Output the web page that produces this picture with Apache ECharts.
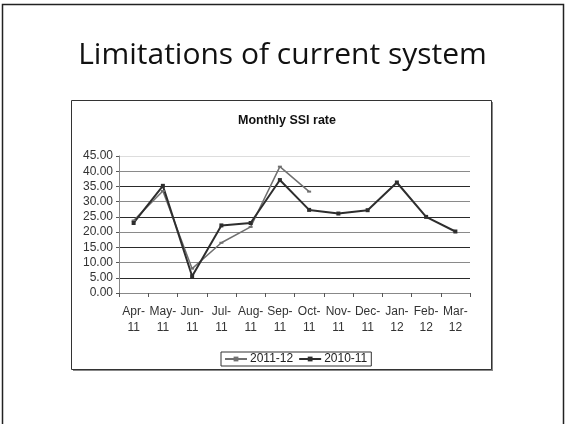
<!DOCTYPE html>
<html>
<head>
<meta charset="utf-8">
<script src="https://cdn.jsdelivr.net/npm/echarts@6/dist/echarts.min.js"></script>
<style>
  html, body { margin: 0; padding: 0; background: #fff; }
  #chart { width: 565px; height: 424px; }
</style>
</head>
<body>
<div id="chart"></div>
<script>
const months = ['Apr-\n11', 'May-\n11', 'Jun-\n11', 'Jul-\n11', 'Aug-\n11', 'Sep-\n11',
  'Oct-\n11', 'Nov-\n11', 'Dec-\n11', 'Jan-\n12', 'Feb-\n12', 'Mar-\n12']
const rate2011_12 = [23.8, 33.5, 8.0, 16.5, 21.7, 41.5, 33.3, null, null, null, null, null]
const rate2010_11 = [23.0, 35.2, 5.5, 22.2, 23.0, 37.1, 27.3, 26.1, 27.2, 36.3, 25.0, 20.2]
const yTicks = [0, 5, 10, 15, 20, 25, 30, 35, 40, 45]

const chart = echarts.init(document.getElementById('chart'))

const gridColors = yTicks.map((v, i) => (v === 45 ? '#dddddd' : i % 2 === 0 ? '#8a8a8a' : '#2a2a2a'))
const labelFont = '"Liberation Sans", Arial'

chart.setOption({
  animation: false,
  backgroundColor: '#fff',
  graphic: [
    // slide frame
    {
      type: 'rect',
      shape: { x: 2.5, y: 4.5, width: 561, height: 430 },
      style: { fill: 'none', stroke: '#222', lineWidth: 1.5 },
    },
    // chart box shadow
    {
      type: 'rect',
      shape: { x: 73, y: 102, width: 420, height: 269 },
      style: { fill: '#888', stroke: 'none' },
    },
    // chart box
    {
      type: 'rect',
      shape: { x: 71.5, y: 100.5, width: 420, height: 269 },
      style: { fill: '#fff', stroke: '#333', lineWidth: 1 },
    },
    {
      type: 'text',
      left: 'center',
      top: 40,
      style: {
        text: 'Limitations of current system',
        fill: '#111',
        font: '30px "Open Sans", sans-serif',
      },
    },
  ],
  title: {
    text: 'Monthly SSI rate',
    left: 282,
    textAlign: 'center',
    top: 109,
    textStyle: { fontFamily: labelFont, fontSize: 12.5, fontWeight: 'bold', color: '#111' },
  },
  legend: {
    left: 221,
    top: 352,
    itemWidth: 22,
    itemHeight: 6,
    itemGap: 5,
    padding: [1, 4, 1, 3],
    borderColor: '#333',
    borderWidth: 1,
    backgroundColor: '#fff',
    textStyle: { fontFamily: labelFont, fontSize: 12, color: '#222', padding: [0, 0, 0, -2] },
    data: ['2011-12', '2010-11'],
  },
  grid: {
    left: 119,
    right: 95,
    top: 156,
    bottom: 131,
    show: true,
    backgroundColor: '#f8f8f8',
    borderWidth: 0,
  },
  xAxis: {
    type: 'category',
    data: months,
    boundaryGap: true,
    axisLine: { lineStyle: { color: '#888', width: 1 } },
    axisTick: { show: true, length: 4, lineStyle: { color: '#555' } },
    axisLabel: {
      interval: 0,
      margin: 11,
      color: '#333',
      fontFamily: labelFont,
      fontSize: 12,
      lineHeight: 16,
    },
  },
  yAxis: {
    type: 'value',
    min: 0,
    max: 45,
    interval: 5,
    axisLine: { show: true, lineStyle: { color: '#888' } },
    axisTick: { show: true, length: 3, lineStyle: { color: '#555' } },
    axisLabel: {
      margin: 6,
      color: '#333',
      fontFamily: labelFont,
      fontSize: 12,
      formatter: (v) => v.toFixed(2),
    },
    splitLine: { show: true, lineStyle: { color: gridColors, width: 1 } },
  },
  series: [
    {
      name: '2011-12',
      type: 'line',
      data: rate2011_12,
      symbol: 'rect',
      symbolSize: [4, 2],
      lineStyle: { color: '#707070', width: 1.5 },
      itemStyle: { color: '#707070' },
    },
    {
      name: '2010-11',
      type: 'line',
      data: rate2010_11,
      symbol: 'rect',
      symbolSize: 4,
      lineStyle: { color: '#2e2e2e', width: 2 },
      itemStyle: { color: '#2e2e2e' },
    },
  ],
})
</script>
</body>
</html>
